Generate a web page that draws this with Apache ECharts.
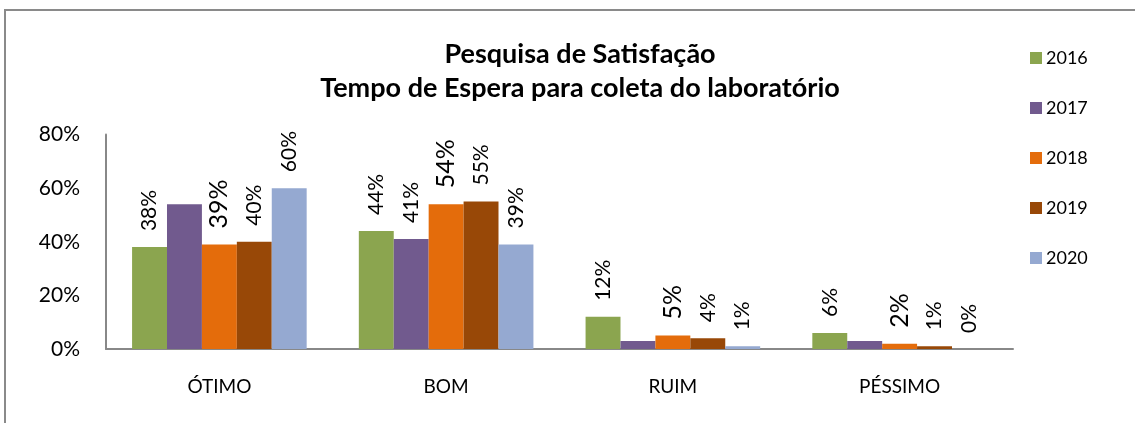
<!DOCTYPE html>
<html>
<head>
<meta charset="utf-8">
<script src="https://cdn.jsdelivr.net/npm/echarts@6/dist/echarts.min.js"></script>
<style>
html,body{margin:0;padding:0;background:#fff;}
#c{width:1135px;height:423px;}
</style>
</head>
<body>
<div id="c"></div>
<script>
const categories = ['ÓTIMO', 'BOM', 'RUIM', 'PÉSSIMO'];
const seriesNames = ['2016', '2017', '2018', '2019', '2020'];
const v2016 = [38, 44, 12, 6];
const v2017 = [54, 41, 3, 3];
const v2018 = [39, 54, 5, 2];
const v2019 = [40, 55, 4, 1];
const v2020 = [60, 39, 1, 0];
// which points show a value label in the original
const labeled2016 = [true, true, true, true];
const labeled2017 = [false, true, false, false];
const labeled2018 = [true, true, true, true];
const labeled2019 = [true, true, true, true];
const labeled2020 = [true, true, true, true];
const yTicks = [0, 20, 40, 60, 80];

const colors = ['#8BA54F', '#715A8E', '#E46C0B', '#984807', '#95A9D1'];
const FONT = 'Lato, "Open Sans", sans-serif';

const values = [v2016, v2017, v2018, v2019, v2020];
const flags = [labeled2016, labeled2017, labeled2018, labeled2019, labeled2020];
const labelSizes = [21, 21, 25, 21, 21];

function makeLabel(si, show) {
  return {
    show: show,
    position: 'top',
    distance: 16,
    rotate: 90,
    align: 'left',
    verticalAlign: 'middle',
    fontFamily: FONT,
    fontSize: labelSizes[si],
    color: '#000',
    formatter: p => Math.round(p.value) + '%'
  };
}

const chart = echarts.init(document.getElementById('c'), null, {renderer: 'canvas'});
chart.setOption({
  animation: false,
  backgroundColor: '#fff',
  graphic: [{
    type: 'rect',
    shape: {x: 5, y: 10, width: 1140, height: 430},
    style: {fill: 'none', stroke: '#8a8a8a', lineWidth: 2},
    silent: true
  }],
  title: {
    text: 'Pesquisa de Satisfação\nTempo de Espera para coleta do laboratório',
    left: 575,
    top: 32,
    textAlign: 'center',
    textStyle: {fontFamily: FONT, fontWeight: 'bold', fontSize: 27, lineHeight: 34, color: '#000'}
  },
  legend: {
    orient: 'vertical',
    left: 1025,
    top: 44,
    itemWidth: 12,
    itemHeight: 12,
    itemGap: 32,
    icon: 'rect',
    textStyle: {fontFamily: FONT, fontSize: 18, lineHeight: 18, color: '#000', padding: [0, 0, 0, -1]},
    data: seriesNames
  },
  grid: {left: 106, right: 122, top: 134.5, bottom: 74, containLabel: false},
  xAxis: {
    type: 'category',
    data: categories,
    axisLine: {lineStyle: {color: '#888', width: 2}},
    axisTick: {show: false},
    axisLabel: {fontFamily: FONT, fontSize: 19, color: '#000', margin: 28}
  },
  yAxis: {
    type: 'value',
    min: yTicks[0],
    max: yTicks[yTicks.length - 1],
    interval: 20,
    axisLine: {show: true, lineStyle: {color: '#888', width: 2}},
    axisTick: {show: false},
    splitLine: {show: false},
    axisLabel: {fontFamily: FONT, fontSize: 21, color: '#000', margin: 26, formatter: '{value}%'}
  },
  series: seriesNames.map((name, si) => ({
    name: name,
    type: 'bar',
    barGap: '0%',
    barCategoryGap: '23%',
    itemStyle: {color: colors[si]},
    label: makeLabel(si, true),
    data: values[si].map((v, i) => ({value: v, label: makeLabel(si, flags[si][i])}))
  }))
});
</script>
</body>
</html>
